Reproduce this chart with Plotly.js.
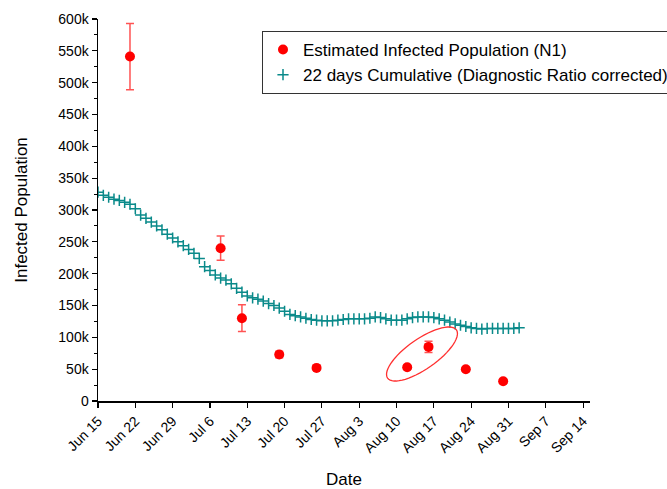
<!DOCTYPE html>
<html>
<head>
<meta charset="utf-8">
<script src="https://cdn.plot.ly/plotly-3.0.1.min.js"></script>
<style>html,body{margin:0;padding:0;background:#fff;}#chart{width:667px;height:489px;}</style>
</head>
<body>
<div id="chart"></div>
<script>
// Estimated Infected Population (N1)
var n1Dates = ['2020-06-21','2020-07-08','2020-07-12','2020-07-19','2020-07-26','2020-08-12','2020-08-16','2020-08-23','2020-08-30'];
var n1Values = [541000, 240000, 130000, 73000, 52000, 53000, 85000, 50000, 31000];
var n1Errors = [52000, 19000, 21000, 5000, 3000, 3000, 9000, 3000, 3000];

// 22 days Cumulative (Diagnostic Ratio corrected), daily from Jun 15 (in thousands)
var cumStart = '2020-06-15';
var cumValues = [328,323,320,317,315,312,309,302,292,287,281,275,269,262,256,250,244,238,232,224,
  211,205,198,193,190,184,177,171,165,162,160,157,153,150,146,141,136,134,132,130,
  128,127,126,126,126,127,128,129,129,129,129,130,132,131,129,127,127,127,129,131,
  132,132,132,131,129,127,124,121,119,117,115,114,113,114,114,114,114,114,114,115];

var cumDates = cumValues.map(function(v, i){
  var d = new Date(Date.UTC(2020, 5, 15 + i));
  return d.toISOString().slice(0,10);
});
var cumY = cumValues.map(function(v){ return v * 1000; });

var traces = [
  {
    x: n1Dates, y: n1Values, type: 'scatter', mode: 'markers',
    name: 'Estimated Infected Population (N1)',
    marker: {color: '#ff0000', size: 10, symbol: 'circle'},
    error_y: {type: 'data', array: n1Errors, visible: true, color: 'rgba(255,40,40,0.8)', thickness: 1.5, width: 4}
  },
  {
    x: cumDates, y: cumY, type: 'scatter', mode: 'markers',
    name: '22 days Cumulative (Diagnostic Ratio corrected)',
    marker: {color: '#0a8a8a', size: 8, symbol: 'cross-thin', line: {color: '#0a8a8a', width: 1.5}}
  }
];

// ellipse annotation (paper coordinates)
var L = 98, R = 590, T = 19, B = 401;
var cx = 422, cy = 354, a = 42, b = 15, ang = 35 * Math.PI / 180;
var path = '';
for (var k = 0; k <= 60; k++) {
  var t = 2 * Math.PI * k / 60;
  var px = cx + a * Math.cos(t) * Math.cos(ang) - b * Math.sin(t) * Math.sin(ang);
  var py = cy - (a * Math.cos(t) * Math.sin(ang) + b * Math.sin(t) * Math.cos(ang));
  var xp = (px - L) / (R - L), yp = (B - py) / (B - T);
  path += (k === 0 ? 'M ' : ' L ') + xp.toFixed(4) + ',' + yp.toFixed(4);
}
path += ' Z';

var font = 'Liberation Sans, Arial, sans-serif';
var layout = {
  width: 667, height: 489,
  margin: {l: 98, r: 77, t: 19, b: 88, autoexpand: false},
  paper_bgcolor: '#fff', plot_bgcolor: '#fff',
  font: {family: font, size: 14, color: '#000'},
  showlegend: true,
  legend: {
    x: (262 - L) / (R - L), y: (B - 31) / (B - T), xanchor: 'left', yanchor: 'top',
    bordercolor: '#333', borderwidth: 1, bgcolor: '#fff',
    font: {family: font, size: 17, color: '#000'},
    tracegroupgap: 0, itemwidth: 30
  },
  xaxis: {
    type: 'date',
    range: ['2020-06-15', '2020-09-15 07:00'],
    tick0: '2020-06-15', dtick: 7 * 86400000,
    tickformat: '%b %-d', tickangle: -45,
    ticks: 'outside', ticklen: 5, tickwidth: 1.2, tickcolor: '#000',
    showline: true, linecolor: '#000', linewidth: 1.5,
    showgrid: false, zeroline: false,
    tickfont: {family: font, size: 14},
    title: {text: 'Date', font: {family: font, size: 17}, standoff: 18}
  },
  yaxis: {
    range: [0, 600000],
    dtick: 50000, tickformat: '~s',
    ticks: 'outside', ticklen: 5, tickwidth: 1.2, tickcolor: '#000',
    minor: {dtick: 25000, ticks: 'outside', ticklen: 3, tickcolor: '#000', tickwidth: 1},
    showline: true, linecolor: '#000', linewidth: 1.5,
    showgrid: false, zeroline: false,
    tickfont: {family: font, size: 14},
    title: {text: 'Infected Population', font: {family: font, size: 17}, standoff: 26}
  },
  shapes: [{
    type: 'path', xref: 'paper', yref: 'paper', path: path,
    line: {color: '#ff3030', width: 1.3}, fillcolor: 'rgba(0,0,0,0)'
  }]
};

Plotly.newPlot('chart', traces, layout, {displayModeBar: false, staticPlot: true});
</script>
</body>
</html>
